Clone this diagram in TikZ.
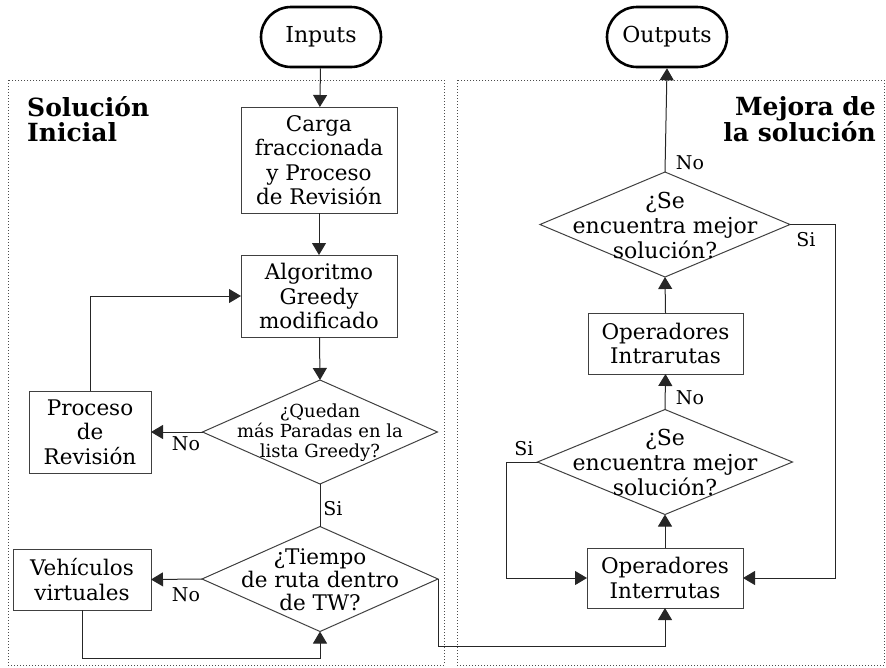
\documentclass[tikz,border=0pt]{standalone}
\usepackage{fontspec}
\setmainfont{DejaVu Serif}
\usetikzlibrary{shapes.geometric,shapes.misc,arrows.meta}
\begin{document}
\begin{tikzpicture}[x=1pt,y=-1pt,
  line/.style={draw=black!85,line width=1pt},
  arr/.style={line,-{Triangle[length=12pt,width=14pt]}},
  term/.style={rounded rectangle,draw=black,line width=2.6pt,minimum width=120pt,minimum height=60pt,inner sep=0pt,font=\fontsize{22}{24}\selectfont},
  proc/.style={rectangle,draw=black!75,line width=1pt,outer sep=0pt,inner sep=0pt,align=center,font=\fontsize{21.5}{24.5}\selectfont},
  dec/.style={diamond,draw=black!75,line width=1pt,outer sep=0pt,inner sep=0pt},
  dtext/.style={align=center,inner sep=0pt,font=\fontsize{22}{25}\selectfont},
  lbl/.style={inner sep=0pt,font=\fontsize{19}{20}\selectfont},
  title/.style={inner sep=0pt,font=\fontsize{25}{25}\selectfont\bfseries},
  group/.style={draw=black!70,line width=1pt,dotted}]
\useasboundingbox (0,0) rectangle (886,667);

% dotted group frames
\draw[group] (8,80) rectangle (444,665);
\draw[group] (457,80) rectangle (884,665);
\node[title,anchor=north west,align=left] (t1) at (27,96) {Solución\\Inicial};
\node[title,anchor=north east,align=right] (t2) at (876,96) {Mejora de\\la solución};

% terminals
\node[term] (in) at (321,37) {Inputs};
\node[term] (out) at (667,37) {Outputs};

% initial solution
\node[proc,minimum width=156pt,minimum height=106pt] (carga) at (319,160) {Carga\\fraccionada\\y Proceso\\de Revisión};
\node[proc,minimum width=156pt,minimum height=82pt] (alg) at (319,296) {Algoritmo\\Greedy\\modificado};
\node[dec,minimum width=235pt,minimum height=104pt] (q) at (320,432) {};
\node[dtext,font=\fontsize{18}{20}\selectfont] (qt) at (320,433) {¿Quedan\\más Paradas en la\\lista Greedy?};
\node[proc,minimum width=122pt,minimum height=82pt] (rev) at (90,432) {Proceso\\de\\Revisión};
\node[dec,minimum width=236pt,minimum height=105pt] (tw) at (320,579) {};
\node[dtext,font=\fontsize{21.5}{23}\selectfont] (twt) at (320,580) {¿Tiempo\\de ruta dentro\\de TW?};
\node[proc,minimum width=138pt,minimum height=61pt] (veh) at (82,579.5) {Vehículos\\virtuales};

% improvement
\node[proc,minimum width=156pt,minimum height=60pt] (inter) at (665,578) {Operadores\\Interrutas};
\node[dec,minimum width=255pt,minimum height=105pt] (d2) at (665,462) {};
\node[dtext] (d2t) at (665,462) {¿Se\\encuentra mejor\\solución?};
\node[proc,minimum width=155pt,minimum height=61pt] (intra) at (665.5,343.5) {Operadores\\Intrarutas};
\node[dec,minimum width=250pt,minimum height=105pt] (d3) at (665,224.5) {};
\node[dtext] (d3t) at (665,225) {¿Se\\encuentra mejor\\solución?};

% bend points
\coordinate (c1) at (438,646);
\coordinate (c2) at (82,658);
\coordinate (c3) at (506,462);
\coordinate (c4) at (835,224.5);

% connectors
\draw[arr] (in) -- (carga);
\draw[arr] (carga) -- (alg);
\draw[arr] (alg) -- (q.north);
\draw[arr] (q.west) -- (rev.east);
\draw[arr] (rev.north) |- (alg.west);
\draw[line] (q.south) -- (tw.north);
\draw[arr] (tw.west) -- (veh.east);
\draw[arr] (veh.south) -- (c2) -| (tw.south);
\draw[arr] (tw.east) -| (c1) -| (inter.south);
\draw[arr] (inter.north) -- (d2.south);
\draw[arr] (d2.west) -- (c3) |- (inter.west);
\draw[arr] (d2.north) -- (intra.south);
\draw[arr] (intra.north) -- (d3.south);
\draw[arr] (d3.east) -- (c4) |- (inter.east);
\draw[arr] (d3.north) -- (out.south);

% branch labels
\node[lbl] (l1) at (186,444) {No};
\node[lbl] (l2) at (333,509) {Si};
\node[lbl] (l3) at (186,595) {No};
\node[lbl] (l4) at (524,449) {Si};
\node[lbl] (l5) at (690,398) {No};
\node[lbl] (l6) at (806,240) {Si};
\node[lbl] (l7) at (690,163) {No};
\end{tikzpicture}
\end{document}
